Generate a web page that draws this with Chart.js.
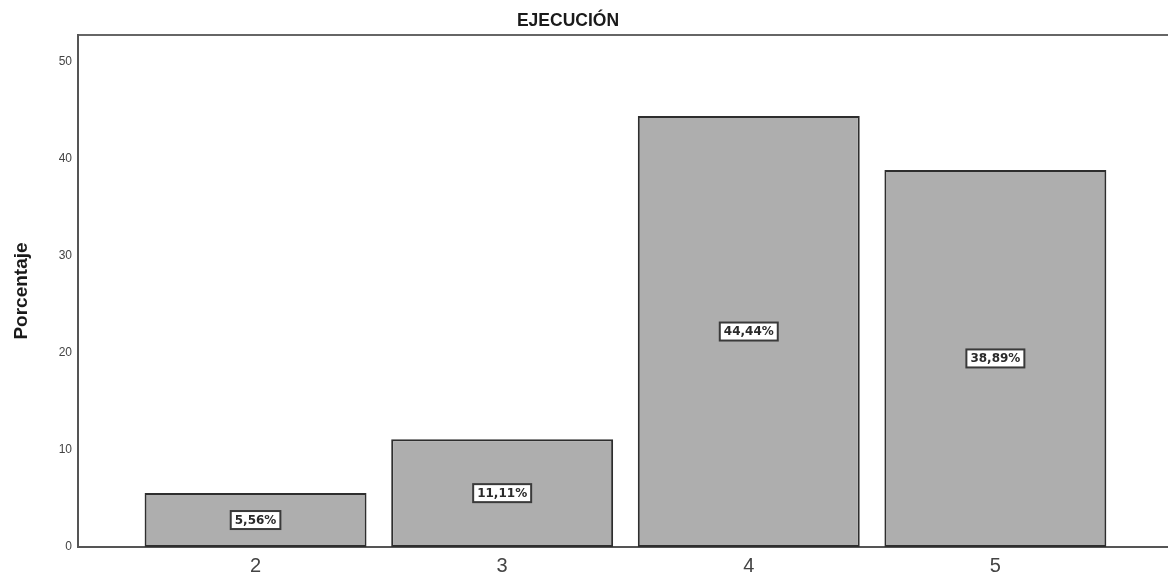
<!DOCTYPE html>
<html>
<head>
<meta charset="utf-8">
<style>
  html, body { margin: 0; padding: 0; background: #fff; }
  #wrap { width: 1168px; height: 580px; position: relative; }
</style>
<script src="https://cdn.jsdelivr.net/npm/chart.js@4.4.1/dist/chart.umd.min.js"></script>
</head>
<body>
<div id="wrap"><canvas id="c" width="1168" height="580"></canvas></div>
<script>
// Data
const categories = [2, 3, 4, 5];
const percentages = [5.56, 11.11, 44.44, 38.89];
const valueLabels = ['5,56%', '11,11%', '44,44%', '38,89%'];
const yTicks = [0, 10, 20, 30, 40, 50];
const chartTitle = 'EJECUCIÓN';
const yTitle = 'Porcentaje';

const FONT = '"Liberation Sans", Arial, sans-serif';
const LABEL_FONT = '"DejaVu Sans", sans-serif';

// Title drawn above the plot frame
const titlePlugin = {
  id: 'topTitle',
  afterDraw(chart) {
    const ctx = chart.ctx;
    ctx.save();
    ctx.font = 'bold 17.5px ' + FONT;
    ctx.fillStyle = '#1a1a1a';
    ctx.textAlign = 'center';
    ctx.textBaseline = 'middle';
    ctx.fillText(chartTitle, 568, 21);
    ctx.restore();
  }
};

// Boxed value labels at the middle of each bar
const boxLabels = {
  id: 'boxLabels',
  afterDatasetsDraw(chart) {
    const ctx = chart.ctx;
    const xs = chart.scales.x, ys = chart.scales.y;
    ctx.save();
    ctx.font = 'bold 12px ' + LABEL_FONT;
    ctx.textAlign = 'center';
    ctx.textBaseline = 'middle';
    percentages.forEach((v, i) => {
      const cx = xs.getPixelForValue(categories[i]);
      const cy = ys.getPixelForValue(v / 2);
      const txt = valueLabels[i];
      const w = ctx.measureText(txt).width + 8;
      const h = 18;
      ctx.fillStyle = '#ffffff';
      ctx.fillRect(cx - w / 2, cy - h / 2, w, h);
      ctx.lineWidth = 2;
      ctx.strokeStyle = '#3a3a3a';
      ctx.strokeRect(cx - w / 2, cy - h / 2, w, h);
      ctx.fillStyle = '#2a2a2a';
      ctx.fillText(txt, cx, cy + 0.5);
    });
    ctx.restore();
  }
};

new Chart(document.getElementById('c'), {
  type: 'bar',
  data: {
    datasets: [{
      data: categories.map((c, i) => ({ x: c, y: percentages[i] })),
      backgroundColor: '#aeaeae',
      borderColor: '#2e2e2e',
      borderWidth: 2,
      borderSkipped: false,
      barPercentage: 0.9,
      categoryPercentage: 1.0
    }]
  },
  options: {
    responsive: false,
    animation: false,
    devicePixelRatio: 1,
    layout: { padding: { top: 35, right: 0, left: 0, bottom: 0 } },
    plugins: {
      legend: { display: false },
      tooltip: { enabled: false },
      title: { display: false }
    },
    scales: {
      x: {
        type: 'linear',
        offset: false,
        min: 1.28,
        max: 5.7,
        afterBuildTicks(scale) { scale.ticks = categories.map(v => ({ value: v })); },
        afterFit(scale) { scale.height = 33; },
        grid: { display: false, drawTicks: false, offset: false },
        border: { display: true, color: '#555555', width: 2 },
        ticks: {
          color: '#444444',
          font: { family: FONT, size: 20 },
          padding: 7,
          callback: (v) => String(v)
        }
      },
      xTop: {
        type: 'linear',
        position: 'top',
        offset: false,
        min: 1.28,
        max: 5.7,
        grid: { display: false, drawTicks: false, offset: false },
        border: { display: true, color: '#666666', width: 2 },
        ticks: { display: false },
        afterFit(scale) { scale.height = 0; }
      },
      y: {
        min: 0,
        max: 52.8,
        afterBuildTicks(scale) { scale.ticks = yTicks.map(v => ({ value: v })); },
        afterFit(scale) { scale.width = 78; },
        grid: { display: false, drawTicks: false },
        border: { display: true, color: '#555555', width: 2 },
        title: {
          display: true,
          text: yTitle,
          color: '#1a1a1a',
          font: { family: FONT, size: 19, weight: 'bold' },
          padding: { top: 10, bottom: 0 }
        },
        ticks: {
          color: '#444444',
          font: { family: FONT, size: 12 },
          padding: 6
        }
      }
    }
  },
  plugins: [titlePlugin, boxLabels]
});
</script>
</body>
</html>
